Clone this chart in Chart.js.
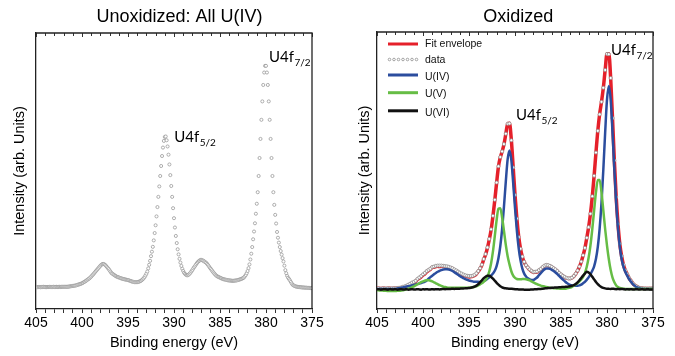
<!DOCTYPE html>
<html><head><meta charset="utf-8">
<script src="https://cdn.jsdelivr.net/npm/chart.js@4.4.0/dist/chart.umd.min.js"></script>
<style>
html,body{margin:0;padding:0;background:#fff;}
#wrap{position:relative;width:675px;height:356px;overflow:hidden;background:#fff;}
canvas{position:absolute;top:0;}
#c1{left:0;}
#c2{left:338px;}
</style></head><body>
<div id="wrap">
<canvas id="c1" width="338" height="356" style="width:338px;height:356px"></canvas>
<canvas id="c2" width="337" height="356" style="width:337px;height:356px"></canvas>
</div>
<script>
// ---------------- DATA ----------------
const panelTitles = ['Unoxidized: All U(IV)', 'Oxidized'];
const xTickLabels = [405, 400, 395, 390, 385, 380, 375];
const seriesNames = ['Fit envelope', 'data', 'U(IV)', 'U(V)', 'U(VI)'];

// Unoxidized panel: binding energy (eV) and intensity (arb.)
const energyUnox = [
405,404.9,404.8,404.7,404.6,404.5,404.4,404.3,404.2,404.1,
404,403.9,403.8,403.7,403.6,403.5,403.4,403.3,403.2,403.1,
403,402.9,402.8,402.7,402.6,402.5,402.4,402.3,402.2,402.1,
402,401.9,401.8,401.7,401.6,401.5,401.4,401.3,401.2,401.1,
401,400.9,400.8,400.7,400.6,400.5,400.4,400.3,400.2,400.1,
400,399.9,399.8,399.7,399.6,399.5,399.4,399.3,399.2,399.1,
399,398.9,398.8,398.7,398.6,398.5,398.4,398.3,398.2,398.1,
398,397.9,397.8,397.7,397.6,397.5,397.4,397.3,397.2,397.1,
397,396.9,396.8,396.7,396.6,396.5,396.4,396.3,396.2,396.1,
396,395.9,395.8,395.7,395.6,395.5,395.4,395.3,395.2,395.1,
395,394.9,394.8,394.7,394.6,394.5,394.4,394.3,394.2,394.1,
394,393.9,393.8,393.7,393.6,393.5,393.4,393.3,393.2,393.1,
393,392.9,392.8,392.7,392.6,392.5,392.4,392.3,392.2,392.1,
392,391.9,391.8,391.7,391.6,391.5,391.4,391.3,391.2,391.1,
391,390.9,390.8,390.7,390.6,390.5,390.4,390.3,390.2,390.1,
390,389.9,389.8,389.7,389.6,389.5,389.4,389.3,389.2,389.1,
389,388.9,388.8,388.7,388.6,388.5,388.4,388.3,388.2,388.1,
388,387.9,387.8,387.7,387.6,387.5,387.4,387.3,387.2,387.1,
387,386.9,386.8,386.7,386.6,386.5,386.4,386.3,386.2,386.1,
386,385.9,385.8,385.7,385.6,385.5,385.4,385.3,385.2,385.1,
385,384.9,384.8,384.7,384.6,384.5,384.4,384.3,384.2,384.1,
384,383.9,383.8,383.7,383.6,383.5,383.4,383.3,383.2,383.1,
383,382.9,382.8,382.7,382.6,382.5,382.4,382.3,382.2,382.1,
382,381.9,381.8,381.7,381.6,381.5,381.4,381.3,381.2,381.1,
381,380.9,380.8,380.7,380.6,380.5,380.4,380.3,380.2,380.1,
380,379.9,379.8,379.7,379.6,379.5,379.4,379.3,379.2,379.1,
379,378.9,378.8,378.7,378.6,378.5,378.4,378.3,378.2,378.1,
378,377.9,377.8,377.7,377.6,377.5,377.4,377.3,377.2,377.1,
377,376.9,376.8,376.7,376.6,376.5,376.4,376.3,376.2,376.1,
376,375.9,375.8,375.7,375.6,375.5,375.4,375.3,375.2,375.1,
375];
const intensityUnox = [
-0.1,0,-0.1,0,0,-0.1,0,0,0.1,0,
0,-0.1,0,0,0,0.1,0,0,0,0.1,
0,0,0.1,0,0,0.1,0.1,0,0.1,0.1,
0.1,0.1,0.1,0.1,0.1,0.15,0.2,0.3,0.35,0.4,
0.5,0.55,0.6,0.7,0.8,0.95,1.1,1.2,1.35,1.5,
1.7,1.9,2.2,2.4,2.7,3.0,3.3,3.6,3.9,4.3,
4.7,5.2,5.6,6.1,6.6,7.1,7.6,8.1,8.6,9.1,
9.6,10.0,10.3,10.4,10.3,10.0,9.6,9.1,8.6,8.1,
7.5,6.9,6.3,6.0,5.7,5.4,5.1,4.85,4.6,4.45,
4.3,4.15,4.0,3.85,3.7,3.6,3.5,3.4,3.3,3.2,
3.1,3.0,2.8,2.7,2.5,2.4,2.3,2.2,2.2,2.2,
2.2,2.3,2.4,2.6,2.8,3.1,3.5,3.9,4.5,5.2,
6.0,7.0,8.4,10.0,11.8,13.9,15.9,18.1,21.0,24.3,
27.8,31.8,36.0,40.6,45.3,50.0,54.5,59.0,62.8,65.8,
67.6,67.8,66.1,63.3,59.6,55.2,50.4,45.5,40.6,35.5,
31.0,26.8,23.0,19.8,17.0,14.7,12.7,11.0,9.5,8.2,
7.2,6.4,5.9,5.5,5.3,5.3,5.6,6.0,6.5,7.1,
7.7,8.4,9.0,9.6,10.2,10.8,11.3,11.7,12.0,12.2,
12.2,12.0,11.8,11.5,11.2,10.9,10.4,9.9,9.3,8.7,
8.2,7.6,7.0,6.5,6.0,5.5,5.1,4.8,4.6,4.4,
4.2,4.0,3.8,3.6,3.5,3.4,3.3,3.2,3.1,3.0,
3.0,2.9,2.9,2.8,2.8,2.8,2.9,2.9,3.0,3.1,
3.2,3.3,3.5,3.6,3.8,4.0,4.3,4.8,5.4,6.2,
7.2,8.5,10.2,12.4,15.0,18.0,21.5,25.0,28.7,33.0,
37.5,42.7,50.0,58.1,66.7,75.3,83.6,91.0,96.6,99.6,
99.6,96.6,91.0,83.6,75.3,66.7,58.1,50.0,42.7,37.0,
32.5,28.6,24.8,22.2,20.0,18.0,16.2,14.6,13.0,11.5,
9.6,7.6,6.2,5.0,4.2,3.6,3.0,2.3,1.6,1.0,
0.7,0.5,0.3,0.2,0.1,0,0,-0.1,-0.1,-0.2,
-0.2,-0.2,-0.3,-0.3,-0.3,-0.4,-0.4,-0.4,-0.5,-0.5,
-0.5];

// Oxidized panel: binding energy grid (eV) shared by all series
const energyOx = [
405,404.8,404.6,404.4,404.2,404,403.8,403.6,403.4,403.2,
403,402.8,402.6,402.4,402.2,402,401.8,401.6,401.4,401.2,
401,400.8,400.6,400.4,400.2,400,399.8,399.6,399.4,399.2,
399,398.8,398.6,398.4,398.2,398,397.8,397.6,397.4,397.2,
397,396.8,396.6,396.4,396.2,396,395.8,395.6,395.4,395.2,
395,394.8,394.6,394.4,394.2,394,393.8,393.6,393.4,393.2,
393,392.8,392.6,392.4,392.2,392,391.8,391.6,391.4,391.2,
391,390.8,390.6,390.4,390.2,390,389.8,389.6,389.4,389.2,
389,388.8,388.6,388.4,388.2,388,387.8,387.6,387.4,387.2,
387,386.8,386.6,386.4,386.2,386,385.8,385.6,385.4,385.2,
385,384.8,384.6,384.4,384.2,384,383.8,383.6,383.4,383.2,
383,382.8,382.6,382.4,382.2,382,381.8,381.6,381.4,381.2,
381,380.8,380.6,380.4,380.2,380,379.8,379.6,379.4,379.2,
379,378.8,378.6,378.4,378.2,378,377.8,377.6,377.4,377.2,
377,376.8,376.6,376.4,376.2,376,375.8,375.6,375.4,375.2,
375];
const fitEnvelope = [
0.3,0.3,0.2,0.3,0.3,0.2,0.3,0.3,0.2,0.3,
0.3,0.3,0.4,0.5,0.7,0.9,1.2,1.5,1.9,2.4,
2.6,3.2,4.0,4.5,5.1,5.85,6.4,7.2,7.8,8.3,
9.1,9.2,9.5,9.6,9.5,9.6,9.6,9.4,9.35,9.15,
8.9,8.6,8.0,7.6,7.1,6.6,6.2,5.8,5.6,5.3,
5.1,5.2,5.35,5.7,6.35,7.4,8.55,10.1,12.5,14.5,
17.35,20.85,25.0,30.7,37.5,44.9,51.8,55.75,58.2,61.3,
65.65,69.95,70.2,63.25,51.7,40.0,29.9,22.2,17.0,13.6,
11.4,10.0,9.0,8.1,7.5,7.0,7.1,7.15,7.8,8.3,
9.1,9.7,10.0,9.95,9.65,9.2,8.65,8.15,7.45,6.65,
6.05,5.5,4.95,4.55,4.4,4.45,4.75,5.4,6.4,7.7,
9.4,11.45,14.15,17.3,21.6,26.1,31.8,39.15,47.95,57.8,
67.0,74.1,79.2,85.2,92.8,99.7,99.65,89.2,72.2,54.3,
38.8,27.3,18.9,13.7,10.1,7.8,6.2,4.6,3.5,2.4,
1.6,1.1,0.7,0.4,0.3,0.2,0.2,0.2,0.2,0.2,
0.2];
const measuredOx = [
0.2,0.3,0.1,0.3,0.2,0.2,0.3,0.2,0.3,0.3,
0.3,0.4,0.5,0.6,0.9,1.1,1.4,1.8,2.2,2.7,
3.0,3.5,4.3,4.9,5.5,6.2,6.8,7.6,8.1,8.6,
9.3,9.5,9.8,9.9,9.9,9.9,9.8,9.7,9.6,9.4,
9.1,8.8,8.3,7.9,7.4,6.9,6.5,6.1,5.8,5.6,
5.5,5.5,5.6,6.0,6.6,7.6,8.8,10.3,12.7,14.8,
17.6,21.2,25.3,31.0,37.8,45.1,52.0,55.9,58.3,61.4,
65.8,70.0,70.1,63.0,51.5,39.8,29.8,22.0,17.0,13.7,
11.5,10.1,9.1,8.3,7.7,7.2,7.3,7.4,8.0,8.5,
9.3,9.9,10.2,10.1,9.8,9.4,8.8,8.3,7.6,6.8,
6.2,5.6,5.1,4.7,4.5,4.5,4.8,5.5,6.5,7.8,
9.5,11.6,14.3,17.4,21.7,26.2,31.9,39.3,48.0,57.8,
67.0,74.0,79.3,85.3,92.8,99.6,99.5,89.4,72.4,54.5,
39.0,27.5,19.1,13.9,10.2,7.9,6.3,4.7,3.5,2.4,
1.6,1.1,0.7,0.4,0.3,0.2,0.2,0.1,0.2,0.2,
0.2];
const uIV = [
0,0,0,0,0,0,0,0,0,0,
0,0.2,0.3,0.5,0.65,0.8,1.0,1.15,1.3,1.5,
1.7,1.9,2.1,2.3,2.5,2.75,3.1,3.6,4.3,5.0,
5.6,6.2,6.8,7.3,7.7,8.0,8.2,8.3,8.3,8.2,
8.0,7.6,7.1,6.6,6.0,5.5,5.0,4.6,4.2,3.9,
3.6,3.4,3.2,3.0,3.0,3.0,2.9,3.0,3.4,3.7,
4.3,4.9,5.6,6.5,7.7,9.7,13.0,18.1,25.4,34.9,
45.5,54.9,58.7,54.7,45.1,34.4,24.8,17.3,12.1,8.6,
6.5,5.3,4.5,4.0,3.8,3.8,4.3,4.85,5.8,6.7,
7.6,8.3,8.7,8.7,8.5,8.1,7.6,7.0,6.3,5.5,
4.7,4.0,3.3,2.6,2.1,1.7,1.5,1.4,1.4,1.4,
1.5,1.8,2.4,3.0,3.9,4.9,6.2,7.7,9.6,12.8,
17.8,25.6,36.4,50.5,66.3,80.2,86.0,80.2,66.3,50.5,
36.4,25.5,17.6,12.5,9.2,7.2,5.6,4.2,3.1,2.1,
1.4,0.8,0.5,0.2,0.1,0,0,0,0,0,
0];
const uV = [
-0.5,-0.6,-0.7,-0.7,-0.8,-0.8,-0.9,-0.9,-0.9,-0.9,
-0.9,-0.8,-0.8,-0.7,-0.6,-0.4,-0.2,0.1,0.4,0.7,
1.1,1.5,2.0,2.4,2.9,3.2,3.5,3.7,3.7,3.5,
3.2,2.8,2.4,2.0,1.6,1.3,1.0,0.8,0.65,0.55,
0.5,0.5,0.5,0.5,0.5,0.5,0.5,0.5,0.5,0.5,
0.5,0.6,0.75,0.9,1.15,1.5,1.95,2.4,3.05,3.8,
5.15,7.4,10.8,15.8,22.3,29.1,34.0,34.2,30.3,24.6,
18.7,13.9,10.4,7.5,5.6,4.7,4.2,4.1,4.1,4.2,
4.2,4.1,3.9,3.6,3.2,2.8,2.4,2.0,1.7,1.4,
1.2,1.0,0.8,0.65,0.5,0.4,0.3,0.25,0.2,0.15,
0.1,0.1,0.1,0.2,0.4,0.6,0.9,1.4,1.9,2.5,
3.2,4.0,5.1,6.8,9.4,13.2,18.4,25.3,33.3,41.0,
46.2,46.2,41.0,33.3,25.3,18.4,12.6,8.0,4.8,2.8,
1.5,0.8,0.4,0.2,0.1,0,0,0,0,0,
0,0,0,0,0,0,0,0,0,0,
0];
const uVI = [
-0.2,-0.1,-0.3,-0.2,-0.1,-0.2,-0.3,-0.1,-0.2,-0.2,
-0.1,-0.3,-0.2,-0.1,-0.2,-0.2,-0.1,-0.3,-0.2,-0.1,
-0.2,-0.2,-0.1,-0.2,-0.3,-0.1,-0.2,-0.1,-0.2,-0.2,
-0.1,-0.2,-0.1,-0.1,-0.2,-0.1,0,-0.1,0,0,
0,0.1,0,0.1,0.1,0.1,0.2,0.2,0.3,0.3,
0.4,0.5,0.7,1.0,1.4,2.0,2.8,3.7,4.55,5.2,
5.6,5.55,5.1,4.4,3.5,2.6,1.8,1.15,0.7,0.4,
0.25,0.15,0.1,0.05,0,-0.1,-0.1,-0.2,-0.2,-0.2,
-0.3,-0.3,-0.3,-0.3,-0.2,-0.2,-0.1,-0.1,0,0,
0.1,0.2,0.3,0.4,0.45,0.5,0.55,0.6,0.65,0.7,
0.75,0.8,0.85,0.95,1.0,1.15,1.35,1.6,2.1,2.8,
3.7,4.65,5.65,6.5,7.3,7.0,6.2,5.15,4.05,2.98,
2.04,1.31,0.79,0.44,0.23,0.11,0.05,0,0.1,0,
-0.1,0,-0.1,0,-0.1,-0.2,-0.1,-0.2,-0.1,-0.2,
-0.2,-0.1,-0.2,-0.2,-0.1,-0.2,-0.2,-0.1,-0.2,-0.2,
-0.2];

// ---------------- STYLE / LAYOUT ----------------
const SANS = "'Liberation Sans', Arial, Helvetica, sans-serif";
const LBL = "Lato, 'Open Sans', sans-serif";
const COLORS = {env:'#e5202a', data:'#8f8f8f', u4:'#2b4d9e', u5:'#66bd45', u6:'#111111'};
const toPts = (xs, ys) => xs.map((x, i) => ({x: x, y: ys[i]}));

function decor(cfg) {
  return {
    id: 'decor' + cfg.key,
    afterDraw(chart) {
      const ctx = chart.ctx, a = chart.chartArea, xs = chart.scales.x, ys = chart.scales.y;
      ctx.save();
      // top (mirror) ticks, pointing inward
      ctx.strokeStyle = '#333'; ctx.lineWidth = 1;
      xs.ticks.forEach((t, i) => {
        const px = Math.round(xs.getPixelForTick(i)) + 0.5;
        const len = (t.value % 5 === 0) ? 4 : 3;
        ctx.beginPath(); ctx.moveTo(px, a.top); ctx.lineTo(px, a.top + len); ctx.stroke();
      });
      // frame top + right
      ctx.strokeStyle = '#222'; ctx.lineWidth = 1.3;
      ctx.beginPath();
      ctx.moveTo(a.left, a.top); ctx.lineTo(a.right, a.top); ctx.lineTo(a.right, a.bottom);
      ctx.stroke();
      // panel title
      ctx.fillStyle = '#000'; ctx.textBaseline = 'alphabetic'; ctx.textAlign = 'center';
      ctx.font = '18px ' + SANS;
      ctx.fillText(cfg.title, cfg.titleX, 21.5);
      // peak labels
      ctx.textAlign = 'left';
      cfg.peaks.forEach(p => {
        const px = xs.getPixelForValue(p.x), py = ys.getPixelForValue(p.y);
        ctx.font = '15px ' + LBL;
        ctx.fillText(p.main, px, py);
        const w = ctx.measureText(p.main).width;
        ctx.font = '10px ' + LBL;
        ctx.fillText(p.sub, px + w + 0.5, py + 4);
      });
      // legend
      if (cfg.legend) {
        const L = cfg.legend;
        L.items.forEach((it, k) => {
          const ly = L.lineY[k];
          if (it.dots) {
            ctx.strokeStyle = COLORS.data; ctx.fillStyle = '#fff'; ctx.lineWidth = 0.8;
            for (let j = 0; j < 7; j++) {
              ctx.beginPath(); ctx.arc(L.x0 + 1.5 + j * 4.5, ly, 1.3, 0, Math.PI * 2);
              ctx.fill(); ctx.stroke();
            }
          } else {
            ctx.strokeStyle = it.color; ctx.lineWidth = 3; ctx.lineCap = 'butt';
            ctx.beginPath(); ctx.moveTo(L.x0, ly); ctx.lineTo(L.x1, ly); ctx.stroke();
          }
          ctx.fillStyle = '#111'; ctx.font = '10.5px ' + SANS; ctx.textBaseline = 'middle';
          ctx.fillText(it.label, L.tx, L.textY[k]);
        });
      }
      ctx.restore();
    }
  };
}

function xScale() {
  return {
    type: 'linear', min: 375, max: 405, reverse: true,
    afterFit: s => { s.height = 47; },
    border: {display: true, color: '#222', width: 1.3},
    grid: {display: true, drawOnChartArea: false, drawTicks: true, tickLength: 4, tickColor: '#333', tickWidth: 1},
    ticks: {
      stepSize: 1, autoSkip: false, maxRotation: 0, padding: 2,
      color: '#000', font: {family: SANS, size: 14},
      callback: v => (xTickLabels.indexOf(v) >= 0 ? String(v) : '')
    },
    title: {display: true, text: 'Binding energy (eV)', color: '#000',
            font: {family: SANS, size: 14.5}, padding: {top: 0, bottom: 4.6}}
  };
}
function yScale(min, max, w, tp) {
  return {
    type: 'linear', min: min, max: max,
    afterFit: s => { s.width = w; },
    border: {display: true, color: '#222', width: 1.3},
    grid: {display: false},
    ticks: {display: false},
    title: {display: true, text: 'Intensity (arb. Units)', color: '#000',
            font: {family: SANS, size: 14.5}, padding: {top: tp, bottom: 0}}
  };
}
const baseOpts = (padRight, padTop, ymin, ymax, yw, tp) => ({
  responsive: false, animation: false, devicePixelRatio: 1,
  layout: {padding: {left: 0, right: padRight, top: padTop, bottom: 0}},
  plugins: {legend: {display: false}, title: {display: false}, tooltip: {enabled: false}},
  scales: {x: xScale(), y: yScale(ymin, ymax, yw, tp)}
});

// ---------------- LEFT PANEL ----------------
new Chart(document.getElementById('c1'), {
  type: 'scatter',
  data: {datasets: [{
    label: seriesNames[1], data: toPts(energyUnox, intensityUnox), showLine: false,
    pointRadius: 1.55, pointBorderWidth: 0.8, pointBorderColor: '#9a9a9a', pointBackgroundColor: '#ffffff'
  }]},
  options: baseOpts(26, 33, -9.9, 114.4, 36, 11.3),
  plugins: [decor({key: 'L', title: panelTitles[0], titleX: 179.5,
    peaks: [{x: 379.67, y: 101.5, main: 'U4f', sub: '7/2'}, {x: 389.97, y: 65.4, main: 'U4f', sub: '5/2'}]})]
});

// ---------------- RIGHT PANEL ----------------
const line = (label, ys, color, w, order) => ({
  label: label, data: toPts(energyOx, ys), showLine: true, borderColor: color, borderWidth: w,
  pointRadius: 0, cubicInterpolationMode: 'monotone', fill: false, order: order
});
new Chart(document.getElementById('c2'), {
  type: 'scatter',
  data: {datasets: [
    line(seriesNames[0], fitEnvelope, COLORS.env, 3.5, 4),
    {label: seriesNames[1], data: toPts(energyOx, measuredOx), showLine: false, order: 3,
     pointRadius: 1.55, pointBorderWidth: 0.8, pointBorderColor: COLORS.data, pointBackgroundColor: '#ffffff'},
    line(seriesNames[2], uIV, COLORS.u4, 2.5, 2),
    line(seriesNames[3], uV, COLORS.u5, 2.5, 1),
    line(seriesNames[4], uVI, COLORS.u6, 2.5, 0)
  ]},
  options: baseOpts(22, 32, -8.5, 108.9, 39, 18.3),
  plugins: [decor({key: 'R', title: panelTitles[1], titleX: 180.3,
    peaks: [{x: 379.57, y: 99.1, main: 'U4f', sub: '7/2'}, {x: 389.89, y: 71.6, main: 'U4f', sub: '5/2'}],
    legend: {x0: 50, x1: 80, tx: 87,
      lineY: [44, 59.5, 75, 92.7, 110.8], textY: [44.2, 60.5, 77, 94.3, 113],
      items: [
        {label: seriesNames[0], color: COLORS.env},
        {label: seriesNames[1], dots: true},
        {label: seriesNames[2], color: COLORS.u4},
        {label: seriesNames[3], color: COLORS.u5},
        {label: seriesNames[4], color: COLORS.u6}
      ]}
  })]
});
</script>
</body></html>
